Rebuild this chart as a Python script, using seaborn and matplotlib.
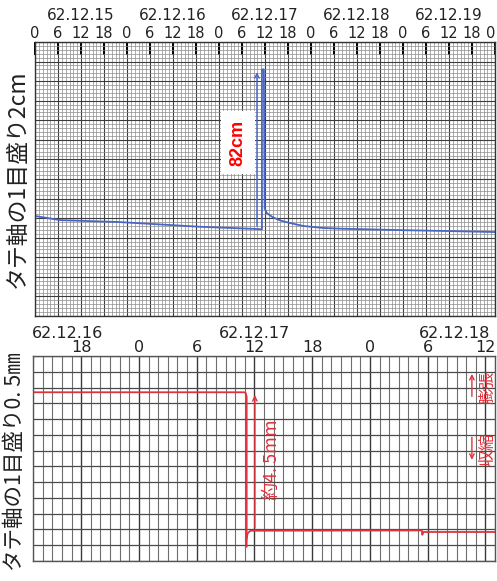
import numpy as np
import pandas as pd
import seaborn as sns
import matplotlib.pyplot as plt
import matplotlib.transforms as mtransforms
from matplotlib.ticker import MultipleLocator

# ---- 上段: 水位の記録 (62.12.15 0時からの経過時間[h], 水位[cm]) ----
top_dates = ["62.12.15", "62.12.16", "62.12.17", "62.12.18", "62.12.19"]
top_tick_labels = ["0", "6", "12", "18"] * 5 + ["0"]
top_hours = [0, 6.5, 22, 43, 57.4, 59.2, 59.2, 59.7, 59.9, 60.5, 62.0, 64.0,
             66.5, 70.0, 75.0, 80.0, 95.0, 108.0, 120.0]
top_level = [51.1, 49.0, 48.0, 45.6, 44.5, 44.3, 126.0, 126.0, 55.0, 52.5, 50.5, 48.8,
             47.5, 46.0, 45.0, 44.6, 43.9, 43.4, 42.9]
spike_label = "82cm"

# ---- 下段: 伸縮計の記録 (62.12.16 0時からの経過時間[h], 変位[mm]) ----
bot_dates = ["62.12.16", "62.12.17", "62.12.18"]
bot_tick_labels = ["18", "0", "6", "12", "18", "0", "6", "12"]
bot_hours_a = [13.0, 34.9, 35.1, 35.2, 35.2]
bot_disp_a = [5.35, 5.35, 5.33, 5.2, 0.45]
bot_hours_b = [35.2, 35.3, 35.6, 53.4, 53.45, 53.55, 61.0]
bot_disp_b = [0.7, 0.88, 0.96, 0.97, 0.83, 0.92, 0.92]
drop_label = "約4. 5mm"

sns.set_style("white")
plt.rcParams['font.family'] = ['DejaVu Sans', 'Noto Sans CJK JP']
jp = ['Noto Sans CJK JP', 'DejaVu Sans']
red = '#e0323c'
blue = '#4a66c4'

fig = plt.figure(figsize=(4.97, 5.81), dpi=100)
fig.patch.set_facecolor('white')

# ================= 上段 =================
ax1 = fig.add_axes([35/497, 1-316/581, 460/497, 274/581])
top_df = pd.DataFrame({'h': top_hours, 'lv': top_level})
sns.lineplot(data=top_df, x='h', y='lv', sort=False, estimator=None,
             color=blue, lw=1.3, ax=ax1)
ax1.set_xlim(0, 120)
ax1.set_ylim(0, 140)
ax1.set_xticks(np.arange(0, 121, 6))
ax1.set_xticklabels(top_tick_labels, fontsize=10.5)
ax1.xaxis.set_minor_locator(MultipleLocator(1))
ax1.yaxis.set_major_locator(MultipleLocator(10))
ax1.yaxis.set_minor_locator(MultipleLocator(2))
ax1.xaxis.tick_top()
ax1.tick_params(axis='x', which='major', direction='in', length=9, width=1.4,
                color='black', pad=1, top=True, bottom=False, labelcolor='#222222')
ax1.tick_params(axis='x', which='minor', length=0)
ax1.tick_params(axis='y', which='both', length=0, labelleft=False)
# 右端の "0" がはみ出さないように
ax1.xaxis.get_major_ticks()[-1].label2.set_horizontalalignment('right')
ax1.set_axisbelow(True)
ax1.grid(which='minor', color='#8c8c8c', lw=0.5)
ax1.grid(which='major', color='#3c3c3c', lw=0.8)
ax1.set_xlabel('')
ax1.set_ylabel('')
for s in ax1.spines.values():
    s.set_color('#333333')
    s.set_linewidth(1.0)

tr1 = mtransforms.blended_transform_factory(ax1.transData, ax1.transAxes)
for i, d in enumerate(top_dates):
    ax1.text(12 + 24*i, 1.098, d, transform=tr1, ha='center', va='center',
             fontsize=11, color='#222222')

# 82cm の矢印とラベル
ax1.annotate('', xy=(57.9, 126), xytext=(57.9, 44.5),
             arrowprops=dict(arrowstyle='->', color=blue, lw=1.0, mutation_scale=8))
ax1.text(53.0, 88.5, spike_label, rotation=90, ha='center', va='center',
         fontsize=13, fontweight='bold', color='red', family=['Liberation Sans'],
         bbox=dict(facecolor='white', edgecolor='none', pad=6))

fig.text(17/497, 1-179/581, "タテ軸の1目盛り2cm", rotation=90, ha='center', va='center',
         fontsize=16.5, color='#222222', family=jp)

# ================= 下段 =================
ax2 = fig.add_axes([33/497, 1-561/581, 462/497, 205/581])
sns.lineplot(x=bot_hours_a, y=bot_disp_a, sort=False, estimator=None,
             color=red, lw=1.3, ax=ax2)
sns.lineplot(x=bot_hours_b, y=bot_disp_b, sort=False, estimator=None,
             color=red, lw=1.3, ax=ax2)
ax2.set_xlim(13, 61)
ax2.set_ylim(0, 6.5)
ax2.set_xticks(np.arange(18, 61, 6))
ax2.set_xticklabels(bot_tick_labels, fontsize=11.5)
ax2.xaxis.set_minor_locator(MultipleLocator(1))
ax2.yaxis.set_major_locator(MultipleLocator(0.5))
ax2.xaxis.tick_top()
ax2.tick_params(axis='x', which='both', length=0, pad=1, colors='#222222')
ax2.tick_params(axis='y', which='both', length=0, labelleft=False)
ax2.set_axisbelow(True)
ax2.grid(axis='x', which='minor', color='#6e6e6e', lw=0.8)
ax2.grid(axis='x', which='major', color='#3a3a3a', lw=1.0)
ax2.grid(axis='y', which='major', color='#4a4a4a', lw=0.9)
for s in ax2.spines.values():
    s.set_color('#555555')
    s.set_linewidth(1.0)

tr2 = mtransforms.blended_transform_factory(ax2.transData, ax2.transAxes)
for x, d in zip([16.6, 36.0, 56.8], bot_dates):
    ax2.text(x, 1.112, d, transform=tr2, ha='center', va='center',
             fontsize=11.5, color='#222222')

# 約4.5mm の矢印
ax2.annotate('', xy=(36.05, 5.35), xytext=(36.05, 0.97),
             arrowprops=dict(arrowstyle='->', color=red, lw=1.0, mutation_scale=8))
ax2.text(37.8, 3.2, drop_label, rotation=90, ha='center', va='center',
         fontsize=13, color=red, family=jp)

# 膨張 / 収縮
ax2.annotate('', xy=(58.6, 6.02), xytext=(58.6, 5.13),
             arrowprops=dict(arrowstyle='->', color=red, lw=1.0, mutation_scale=8))
ax2.annotate('', xy=(58.6, 3.12), xytext=(58.6, 4.01),
             arrowprops=dict(arrowstyle='->', color=red, lw=1.0, mutation_scale=8))
ax2.text(60.3, 5.5, "膨張", rotation=90, ha='center', va='center',
         fontsize=12, color=red, family=jp, clip_on=False)
ax2.text(60.3, 3.55, "収縮", rotation=90, ha='center', va='center',
         fontsize=12, color=red, family=jp, clip_on=False)

fig.text(15/497, 1-462/581, "タテ軸の1目盛り0. 5㎜", rotation=90, ha='center', va='center',
         fontsize=15.5, color='#222222', family=jp)

fig.savefig("out.png", dpi=100)
